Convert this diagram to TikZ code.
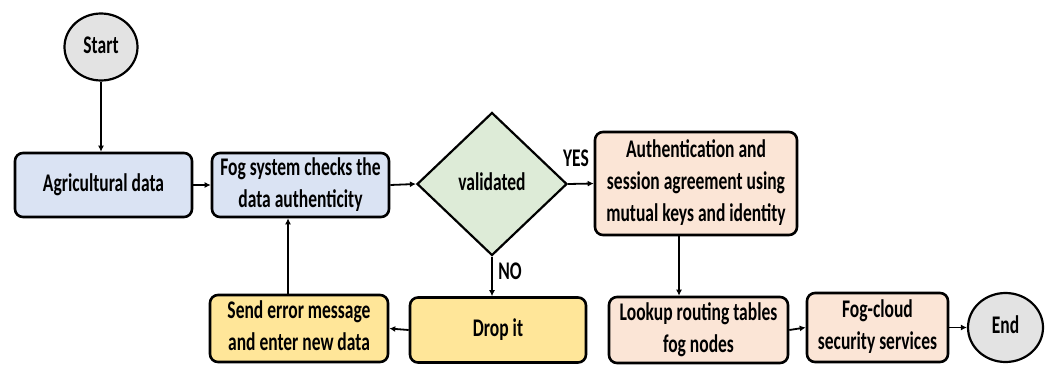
\documentclass[tikz,border=0pt]{standalone}
\usepackage{fontspec}
\setmainfont{Carlito}
\usetikzlibrary{shapes.geometric,arrows.meta}
\definecolor{cblue}{HTML}{DAE3F3}
\definecolor{cgreen}{HTML}{DDEBD7}
\definecolor{cyellow}{HTML}{FFE699}
\definecolor{cpeach}{HTML}{FBE5D6}
\definecolor{cgray}{HTML}{E3E3E3}
\newcommand\stt[1]{\scalebox{1}[1.45]{\begin{tabular}{@{}c@{}}#1\end{tabular}}}
\tikzset{
  txt/.style={font=\fontsize{17.5}{22}\selectfont\bfseries},
  box/.style={txt, draw=black, line width=2.6pt, rounded corners=8pt, inner sep=0pt},
  term/.style={txt, draw=black, line width=2.2pt, ellipse, fill=cgray, inner sep=0pt},
  dec/.style={txt, draw=black, line width=2.2pt, diamond, fill=cgreen, inner sep=0pt},
  conn/.style={draw=black, line width=1.8pt, -{Latex[length=6pt,width=6pt]}},
  lbl/.style={txt, inner sep=0pt}
}
\begin{document}
\begin{tikzpicture}[x=1pt,y=1pt]
\useasboundingbox (0,0) rectangle (1051,365);
\node[term, minimum width=73pt, minimum height=67pt] (start) at (101,318) {\stt{Start}};
\node[box, fill=cblue, minimum width=177pt, minimum height=64pt] (agri) at (103.5,180) {\stt{Agricultural data}};
\node[box, fill=cblue, minimum width=177pt, minimum height=64pt] (fog) at (300.5,180) {\stt{Fog system checks the\\data authenticity}};
\node[dec, minimum width=150pt, minimum height=143pt] (valid) at (492,181) {\stt{validated}};
\node[box, fill=cpeach, minimum width=202pt, minimum height=103pt] (auth) at (696,181.5) {\stt{Authentication and\\session agreement using\\mutual keys and identity}};
\node[box, fill=cyellow, minimum width=176pt, minimum height=65pt] (drop) at (498,35) {\stt{Drop it}};
\node[box, fill=cyellow, minimum width=178pt, minimum height=67pt] (send) at (299,36.5) {\stt{Send error message\\and enter new data}};
\node[box, fill=cpeach, minimum width=179pt, minimum height=66pt] (lookup) at (698.5,35) {\stt{Lookup routing tables\\fog nodes}};
\node[box, fill=cpeach, minimum width=141pt, minimum height=69pt] (fogcloud) at (877.5,37.5) {\stt{Fog-cloud\\security services}};
\node[term, minimum width=75pt, minimum height=69pt] (end) at (1005.5,37.5) {\stt{End}};
\draw[conn] (start.south) -- (start.south |- agri.north);
\draw[conn] (agri.east) -- (fog.west);
\draw[conn] (fog.east) -- (valid.west);
\draw[conn] (valid.east) -- (auth.west);
\draw[conn] (valid.south) -- (valid.south |- drop.north);
\draw[conn] (drop.west) -- (send.east);
\coordinate (sendtop) at (288,70);
\draw[conn] (sendtop) -- (sendtop |- fog.south);
\coordinate (authbot) at (679,130);
\draw[conn] (authbot) -- (authbot |- lookup.north);
\draw[conn] (lookup.east) -- (fogcloud.west);
\draw[conn] (fogcloud.east) -- (end.west);
\node[lbl] (yes) at (576,205) {\stt{YES}};
\node[lbl] (no) at (510,92) {\stt{NO}};
\end{tikzpicture}
\end{document}
